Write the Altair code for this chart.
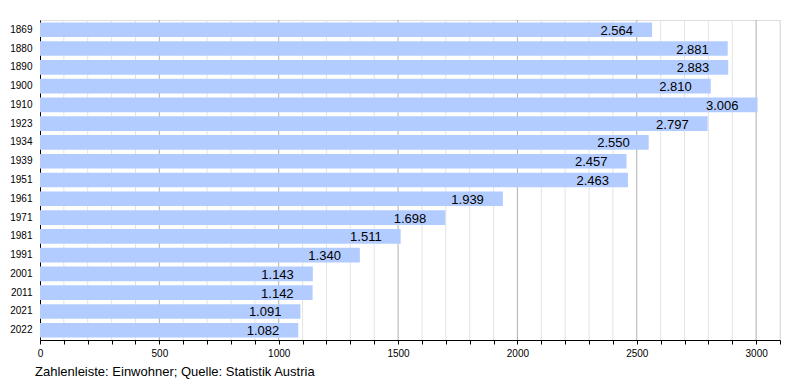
import altair as alt
import pandas as pd

years = ["1869", "1880", "1890", "1900", "1910", "1923", "1934", "1939", "1951",
         "1961", "1971", "1981", "1991", "2001", "2011", "2021", "2022"]
population = [2564, 2881, 2883, 2810, 3006, 2797, 2550, 2457, 2463,
              1939, 1698, 1511, 1340, 1143, 1142, 1091, 1082]
minor_grid = list(range(100, 3101, 100))
major_grid = [500, 1000, 1500, 2000, 2500, 3000]
tick_values = list(range(0, 3101, 100))
footer = "Zahlenleiste: Einwohner; Quelle: Statistik Austria"

df = pd.DataFrame({"year": years, "pop": population})
df["label"] = [f"{v:,}".replace(",", ".") for v in population]

xscale = alt.Scale(domain=[0, 3100], nice=False, zero=True)
xaxis = alt.Axis(values=tick_values, grid=False, domainColor="black",
                 tickColor="black", tickSize=4, labelFontSize=10,
                 labelColor="black", labelFont="Liberation Sans",
                 labelOverlap=False, labelFlush=False, labelPadding=4,
                 labelExpr="datum.value % 500 == 0 ? datum.label : ''",
                 format="d")

minor = alt.Chart(pd.DataFrame({"pop": [v for v in minor_grid if v not in major_grid]})).mark_rule(
    color="#e3e3e3", strokeWidth=1
).encode(x=alt.X("pop:Q", scale=xscale, axis=xaxis, title=None))

major = alt.Chart(pd.DataFrame({"pop": major_grid})).mark_rule(
    color="#b0b0b0", strokeWidth=1
).encode(x=alt.X("pop:Q", scale=xscale, axis=xaxis, title=None))

base = alt.Chart(df)

bars = base.mark_bar(color="#b3ccff").encode(
    x=alt.X("pop:Q", scale=xscale, title=None, axis=xaxis),
    y=alt.Y("year:N", sort=years, title=None,
            scale=alt.Scale(paddingInner=0.22, paddingOuter=0.13),
            axis=alt.Axis(ticks=False, domainColor="black", labelFontSize=10,
                          labelColor="black", labelFont="Liberation Sans",
                          labelPadding=8)),
)

labels = base.mark_text(align="right", baseline="middle", dx=-19, dy=1,
                        fontSize=13, font="Liberation Sans", color="black").encode(
    x=alt.X("pop:Q", scale=xscale, title=None, axis=xaxis),
    y=alt.Y("year:N", sort=years, title=None),
    text="label:N",
)

foot = alt.Chart(pd.DataFrame({"t": [footer]})).mark_text(
    align="left", baseline="middle", fontSize=13, font="Liberation Sans", color="black"
).encode(x=alt.value(-5), y=alt.value(352), text="t:N")

chart = alt.layer(minor, major, bars, labels, foot).properties(
    width=740, height=320,
    padding={"left": 32, "top": 12, "right": 10, "bottom": 40},
    autosize=alt.AutoSizeParams(type="none"),
).configure_view(stroke=None).configure(background="white")

chart.save("out.html", embed_options={"renderer": "svg", "actions": False})
